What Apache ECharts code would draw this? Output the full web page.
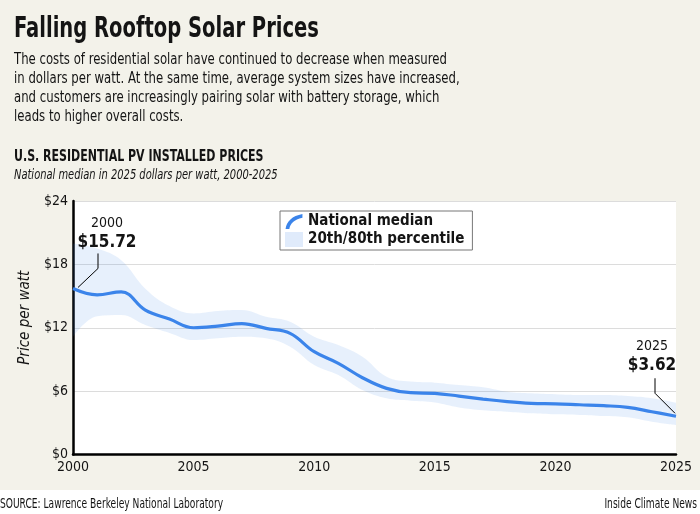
<!DOCTYPE html>
<html>
<head>
<meta charset="utf-8">
<script src="https://cdn.jsdelivr.net/npm/echarts@6/dist/echarts.min.js"></script>
<style>
html,body{margin:0;padding:0;background:#fff;}
#chart{width:700px;height:514px;}
</style>
</head>
<body>
<div id="chart"></div>
<script>
const years = ['2000','2001','2002','2003','2004','2005','2006','2007','2008','2009','2010','2011','2012','2013','2014','2015','2016','2017','2018','2019','2020','2021','2022','2023','2024','2025'];
const median = [15.72,15.12,15.4,13.67,12.82,12.0,12.15,12.4,11.94,11.47,9.73,8.63,7.27,6.26,5.85,5.79,5.53,5.25,5.0,4.84,4.8,4.71,4.62,4.46,4.05,3.62];
const p20 = [11.15,13.1,13.2,12.25,11.5,10.83,11.0,11.15,11.0,10.2,8.47,7.52,6.1,5.32,5.1,4.93,4.46,4.2,4.05,3.9,3.8,3.74,3.64,3.52,3.1,2.79];
const p80 = [19.98,19.5,18.4,15.7,14.05,13.35,13.58,13.67,13.04,12.57,11.15,10.36,9.25,7.36,6.9,6.8,6.57,6.36,5.94,5.79,5.7,5.63,5.63,5.53,5.32,4.9];
const yTicks = [0, 6, 12, 18, 24];
const annotations = [
  {idx: 0, year: '2000', value: '$15.72'},
  {idx: 25, year: '2025', value: '$3.62'}
];
const titleText = 'Falling Rooftop Solar Prices';
const bodyLines = [
  'The costs of residential solar have continued to decrease when measured',
  'in dollars per watt. At the same time, average system sizes have increased,',
  'and customers are increasingly pairing solar with battery storage, which',
  'leads to higher overall costs.'
];
const chartTitle = 'U.S. RESIDENTIAL PV INSTALLED PRICES';
const chartSubtitle = 'National median in 2025 dollars per watt, 2000-2025';
const sourceText = 'SOURCE: Lawrence Berkeley National Laboratory';
const creditText = 'Inside Climate News';

const FONT = '"DejaVu Sans Condensed", "DejaVu Sans", sans-serif';
const BG = '#f3f2ea';
const INK = '#141414';
const LINE = '#3b84ea';
const BAND = 'rgba(59,132,234,0.12)';

const chart = echarts.init(document.getElementById('chart'), null, {renderer: 'canvas'});
const bandSpan = p80.map((v, i) => +(v - p20[i]).toFixed(2));

chart.setOption({
  backgroundColor: '#fff',
  animation: false,
  textStyle: {fontFamily: FONT},
  legend: {
    left: 280, top: 211, orient: 'vertical',
    backgroundColor: '#fff', borderColor: '#777', borderWidth: 1,
    padding: [3, 8, 3, 5], itemGap: 3, itemWidth: 18, itemHeight: 15,
    textStyle: {fontFamily: FONT, fontSize: 15, fontWeight: 'bold', color: INK},
    data: [
      {name: 'National median', icon: 'path://M0,16 C1,8 7,2 18,0 L18,4 C9,6 5,10 4,16 Z', itemStyle: {color: LINE}},
      {name: '20th/80th percentile', icon: 'rect', itemStyle: {color: '#e0ebfb'}}
    ]
  },
  grid: {left: 73, right: 24, top: 201, bottom: 59.5, show: true, backgroundColor: '#fff', borderWidth: 0},
  xAxis: {
    type: 'category', data: years, boundaryGap: false,
    axisLine: {lineStyle: {color: '#000', width: 2.5}},
    axisTick: {show: false},
    axisLabel: {interval: 4, color: INK, fontFamily: FONT, fontSize: 14, margin: 6},
    splitLine: {show: false}
  },
  yAxis: {
    type: 'value', min: yTicks[0], max: yTicks[yTicks.length - 1], interval: 6,
    name: 'Price per watt', nameLocation: 'middle', nameGap: 38,
    nameTextStyle: {fontFamily: FONT, fontSize: 15, fontStyle: 'italic', color: INK, padding: [0, 0, 0, 20]},
    axisLine: {show: true, lineStyle: {color: '#000', width: 2.5}},
    axisTick: {show: false},
    axisLabel: {color: INK, fontFamily: FONT, fontSize: 14, margin: 5, formatter: v => '$' + v},
    splitLine: {lineStyle: {color: '#dcdcdc', width: 1}}
  },
  series: [
    {name: 'p20', type: 'line', stack: 'band', data: p20, smooth: 0.4, symbol: 'none',
     lineStyle: {opacity: 0}, silent: true, z: 1},
    {name: '20th/80th percentile', type: 'line', stack: 'band', data: bandSpan, smooth: 0.4, symbol: 'none',
     lineStyle: {opacity: 0}, areaStyle: {color: BAND, opacity: 1}, itemStyle: {color: '#e0ebfb'}, silent: true, z: 1},
    {name: 'National median', type: 'line', data: median, smooth: 0.4, symbol: 'none',
     lineStyle: {color: LINE, width: 3.2}, itemStyle: {color: LINE}, z: 3}
  ]
});

function txt(text, x, y, size, sx, opts) {
  return Object.assign({type: 'text', z: 10, x: x, y: y, scaleX: sx, silent: true,
    style: Object.assign({text: text, fontFamily: FONT, fontSize: size, fill: INK,
      align: 'left', verticalAlign: 'middle'}, (opts || {}))});
}

const g = [
  {type: 'rect', left: 0, top: 0, z: -10, silent: true, shape: {width: 700, height: 490}, style: {fill: BG}},
  txt(titleText, 14, 29.5, 27.5, 0.79, {fontWeight: 'bold'}),
  txt(chartTitle, 14, 156.5, 15.5, 0.79, {fontWeight: 'bold'}),
  txt(chartSubtitle, 14, 175, 14.5, 0.76, {fontStyle: 'italic'}),
  txt(sourceText, 0, 504, 13.5, 0.75),
  txt(creditText, 697, 504, 13.5, 0.75, {align: 'right'})
];
bodyLines.forEach((l, i) => g.push(txt(l, 14, 59.5 + i * 19.3, 15.5, 0.84)));

// Annotations positioned from data via the chart's own scales
const p0 = chart.convertToPixel({gridIndex: 0}, [annotations[0].idx, median[annotations[0].idx]]);
g.push({type: 'polyline', z: 10, silent: true, shape: {points: [[p0[0] + 5, p0[1] - 1], [p0[0] + 25, p0[1] - 20], [p0[0] + 25, p0[1] - 35]]},
  style: {stroke: '#000', lineWidth: 1, fill: null}});
g.push(txt(annotations[0].value, p0[0] + 34, p0[1] - 46, 17, 1, {fontWeight: 'bold', align: 'center'}));
g.push(txt(annotations[0].year, p0[0] + 34, p0[1] - 65, 14, 1, {align: 'center'}));
const p1 = chart.convertToPixel({gridIndex: 0}, [annotations[1].idx, median[annotations[1].idx]]);
g.push({type: 'polyline', z: 10, silent: true, shape: {points: [[p1[0] - 1, p1[1] - 3], [p1[0] - 21, p1[1] - 23], [p1[0] - 21, p1[1] - 38]]},
  style: {stroke: '#000', lineWidth: 1, fill: null}});
g.push(txt(annotations[1].value, p1[0] - 24, p1[1] - 51, 17, 1, {fontWeight: 'bold', align: 'center'}));
g.push(txt(annotations[1].year, p1[0] - 24, p1[1] - 70, 14, 1, {align: 'center'}));

chart.setOption({graphic: g});
</script>
</body>
</html>
